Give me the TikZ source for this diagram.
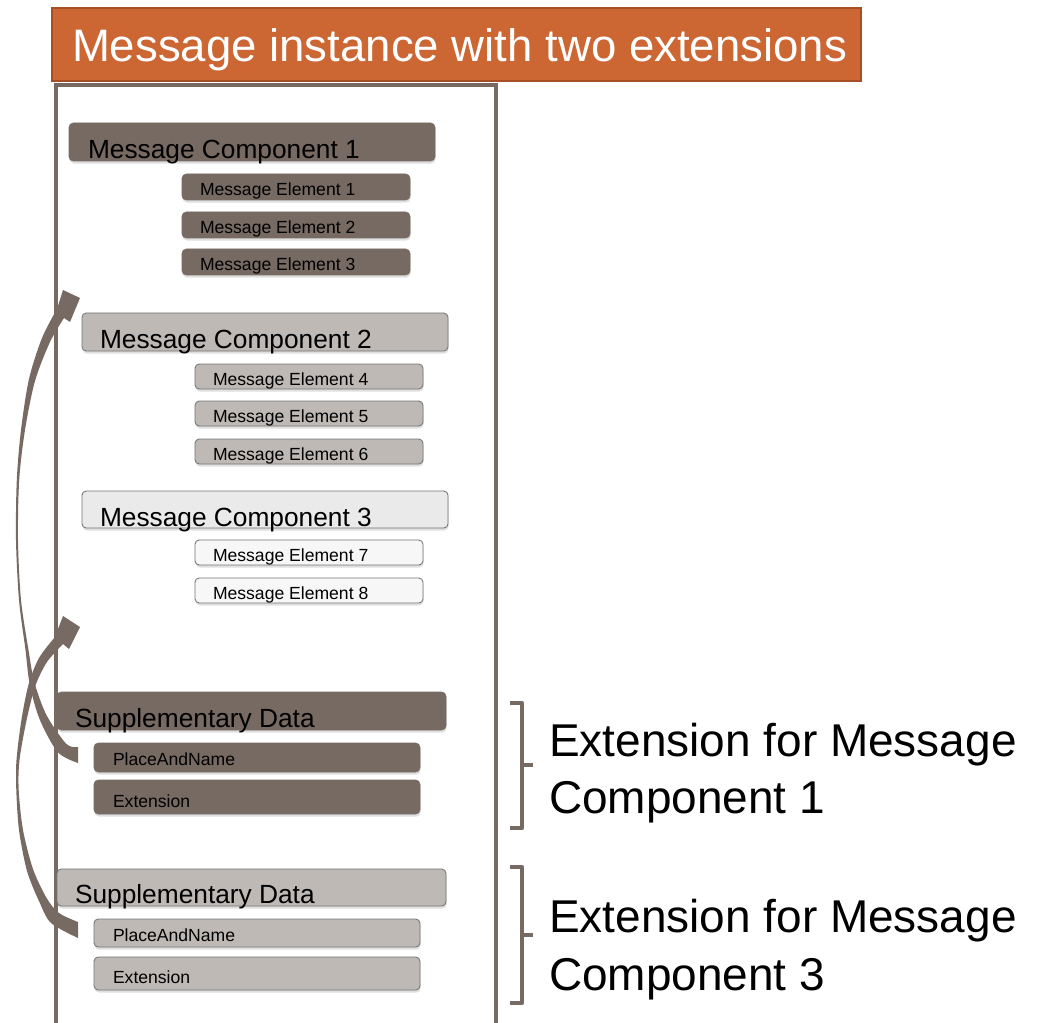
\documentclass[tikz,border=0pt]{standalone}
\usepackage{fontspec}
\setmainfont{Liberation Sans}
\usetikzlibrary{shadows}
\definecolor{taupe}{RGB}{118,106,99}
\definecolor{stone}{RGB}{190,185,181}
\definecolor{mist}{RGB}{234,234,234}
\definecolor{paper}{RGB}{247,247,247}
\definecolor{rust}{RGB}{204,102,51}
\definecolor{rustline}{RGB}{166,78,36}
\newcommand\pxl{0.025cm}

\begin{document}
\begin{tikzpicture}[x=0.025cm, y=-0.025cm]
\tikzstyle{every node}=[inner sep=0, outer sep=0]
\tikzstyle{box}=[rectangle, rounded corners=3pt, anchor=north west, drop shadow={shadow xshift=0.4pt, shadow yshift=-1.8pt, opacity=0.25}]
\tikzstyle{dark}=[box, fill=taupe, draw=taupe]
\tikzstyle{grey}=[box, fill=stone, draw=black!55, line width=0.6pt]
\tikzstyle{pale}=[box, fill=mist, draw=black!55, line width=0.6pt]
\tikzstyle{white}=[box, fill=paper, draw=black!55, line width=0.6pt]
\tikzstyle{big}=[anchor=base west, font=\fontsize{18.7}{22}\selectfont]
\tikzstyle{small}=[anchor=base west, font=\fontsize{12.5}{15}\selectfont]
\tikzstyle{huge}=[anchor=base west, font=\fontsize{32.4}{38}\selectfont]
\tikzstyle{note}=[anchor=base west, font=\fontsize{32.7}{38}\selectfont]
\tikzstyle{brace}=[taupe, line width=3pt, line join=round]
\useasboundingbox (0,0) rectangle (1050,1023);

% title
\node[fill=rust, draw=rustline, line width=1.2pt, anchor=north west, minimum width=809*\pxl, minimum height=73*\pxl] (title) at (52,8) {};
\node[huge, text=white] (titletext) at ([shift={(20,-19)}]title.south west) {Message instance with two extensions};

% curved arrows
\fill[taupe] plot[smooth] coordinates {(78,763) (57.6,752) (39.4,718.7) (29.6,683.6) (25.5,650) (19,600) (16,540) (16.8,480) (21,430) (29,379) (42,338) (57,309)}
  -- (63,290) -- (80,298) -- (70,322)
  -- plot[smooth] coordinates {(64,318) (50,342) (35,381) (25,430) (19.2,480) (18,540) (21,600) (28.5,650) (34.4,682.4) (46.6,715.3) (66.4,744) (78,747)} -- cycle;
\fill[taupe] plot[smooth] coordinates {(78,938) (51,923) (39.4,902) (27,871) (19,830) (16.3,790) (16.5,760) (21.5,719.5) (28.7,684) (39,658) (55,637)}
  -- (63,616) -- (80,627) -- (69,649)
  -- plot[smooth] coordinates {(63,644) (47,662) (35.3,686) (26.5,720.5) (19.5,760) (18.7,790) (23,830) (33,869) (46.6,898) (59,913) (78,922)} -- cycle;

% frame
\draw[taupe, line width=2.6pt] (56,1040) -- (56,85) -- (496,85) -- (496,1040);

% component 1
\node[dark, minimum width=366*\pxl, minimum height=38*\pxl] (c1) at (69,123) {};
\node[big] (c1t) at ([shift={(19,-2)}]c1.south west) {Message Component 1};
\node[dark, minimum width=228*\pxl, minimum height=26*\pxl] (e1) at (182,174) {};
\node[small] (e1t) at ([shift={(18,-4)}]e1.south west) {Message Element 1};
\node[dark, minimum width=228*\pxl, minimum height=26*\pxl] (e2) at (182,212) {};
\node[small] (e2t) at ([shift={(18,-4)}]e2.south west) {Message Element 2};
\node[dark, minimum width=228*\pxl, minimum height=26*\pxl] (e3) at (182,249) {};
\node[small] (e3t) at ([shift={(18,-4)}]e3.south west) {Message Element 3};

% component 2
\node[grey, minimum width=366*\pxl, minimum height=38*\pxl] (c2) at (82,313) {};
\node[big] (c2t) at ([shift={(18,-3)}]c2.south west) {Message Component 2};
\node[grey, minimum width=228*\pxl, minimum height=25*\pxl] (e4) at (195,364) {};
\node[small] (e4t) at ([shift={(18,-4)}]e4.south west) {Message Element 4};
\node[grey, minimum width=228*\pxl, minimum height=25*\pxl] (e5) at (195,401) {};
\node[small] (e5t) at ([shift={(18,-4)}]e5.south west) {Message Element 5};
\node[grey, minimum width=228*\pxl, minimum height=25*\pxl] (e6) at (195,439) {};
\node[small] (e6t) at ([shift={(18,-4)}]e6.south west) {Message Element 6};

% component 3
\node[pale, minimum width=366*\pxl, minimum height=37*\pxl] (c3) at (82,491) {};
\node[big] (c3t) at ([shift={(18,-2)}]c3.south west) {Message Component 3};
\node[white, minimum width=228*\pxl, minimum height=25*\pxl] (e7) at (195,540) {};
\node[small] (e7t) at ([shift={(18,-4)}]e7.south west) {Message Element 7};
\node[white, minimum width=228*\pxl, minimum height=25*\pxl] (e8) at (195,578) {};
\node[small] (e8t) at ([shift={(18,-4)}]e8.south west) {Message Element 8};

% supplementary data 1
\node[dark, minimum width=389*\pxl, minimum height=38*\pxl] (s1) at (57,692) {};
\node[big] (s1t) at ([shift={(18,-3)}]s1.south west) {Supplementary Data};
\node[dark, minimum width=326*\pxl, minimum height=29*\pxl] (p1) at (94,743) {};
\node[small] (p1t) at ([shift={(19,-7)}]p1.south west) {PlaceAndName};
\node[dark, minimum width=326*\pxl, minimum height=34*\pxl] (x1) at (94,780) {};
\node[small] (x1t) at ([shift={(19,-7)}]x1.south west) {Extension};

% supplementary data 2
\node[grey, minimum width=389*\pxl, minimum height=37*\pxl] (s2) at (57,869) {};
\node[big] (s2t) at ([shift={(18,-3)}]s2.south west) {Supplementary Data};
\node[grey, minimum width=326*\pxl, minimum height=28*\pxl] (p2) at (94,919) {};
\node[small] (p2t) at ([shift={(19,-6)}]p2.south west) {PlaceAndName};
\node[grey, minimum width=326*\pxl, minimum height=33*\pxl] (x2) at (94,957) {};
\node[small] (x2t) at ([shift={(19,-7)}]x2.south west) {Extension};

% brackets and notes
\draw[brace] (510,703) -- (522,703) -- (522,828) -- (510,828);
\draw[brace] (522,765) -- (533,765);
\draw[brace] (510,867) -- (522,867) -- (522,1003) -- (510,1003);
\draw[brace] (522,935) -- (533,935);
\node[note] (n1a) at (549,756) {Extension for Message};
\node[note] (n1b) at (549,813) {Component 1};
\node[note] (n2a) at (549,932) {Extension for Message};
\node[note] (n2b) at (549,990) {Component 3};
\end{tikzpicture}
\end{document}
